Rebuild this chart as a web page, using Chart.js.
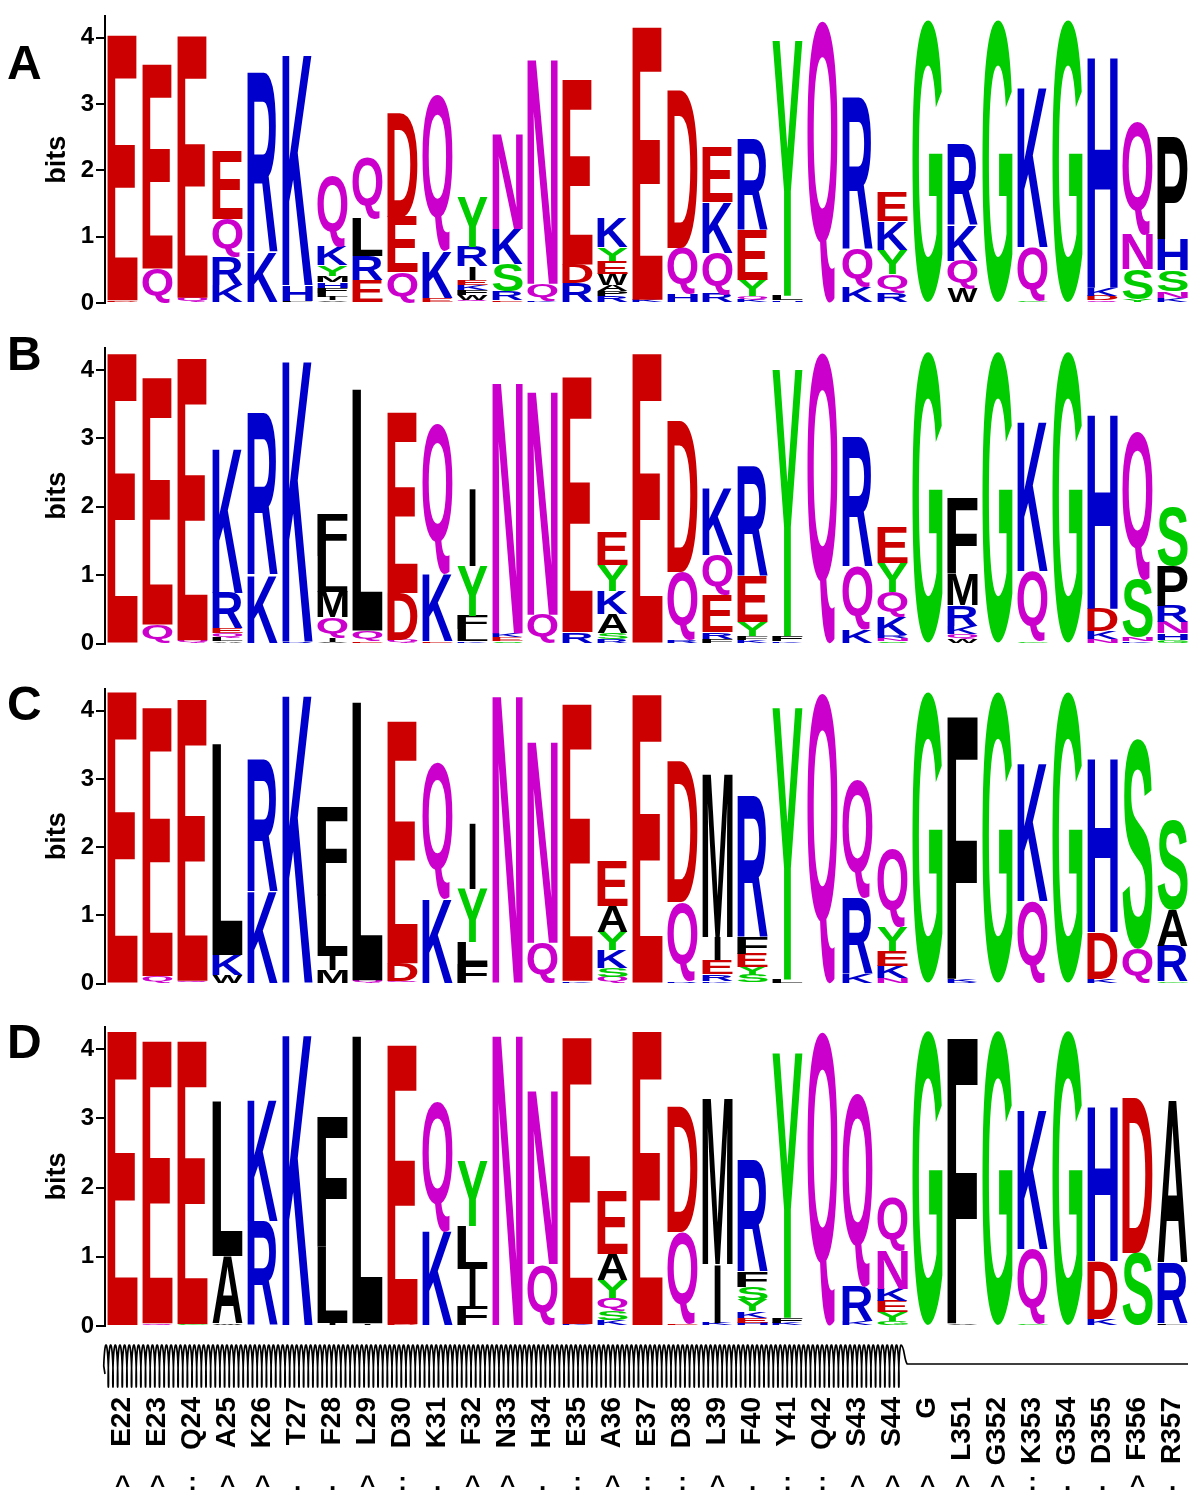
<!DOCTYPE html>
<html>
<head>
<meta charset="utf-8">
<script src="https://cdn.jsdelivr.net/npm/chart.js@4.4.1/dist/chart.umd.min.js"></script>
<style>
  html, body { margin: 0; padding: 0; background: #fff; }
  #wrap { position: relative; width: 1200px; height: 1500px; overflow: hidden; }
  #wrap canvas { position: absolute; left: 0; }
</style>
</head>
<body>
<div id="wrap">
  <canvas id="logo-a" width="1200" height="320" style="top:0px"></canvas>
  <canvas id="logo-b" width="1200" height="340" style="top:320px"></canvas>
  <canvas id="logo-c" width="1200" height="340" style="top:660px"></canvas>
  <canvas id="logo-d" width="1200" height="500" style="top:1000px"></canvas>
</div>
<script>
// logo.js — four stacked sequence logos (bits per residue) drawn on Chart.js bar stacks

const FONT = '"Liberation Sans", Arial, Helvetica, sans-serif';

const positions = ["E22", "E23", "Q24", "A25", "K26", "T27", "F28", "L29", "D30", "K31", "F32",
                   "N33", "H34", "E35", "A36", "E37", "D38", "L39", "F40", "Y41", "Q42", "S43",
                   "S44", "G", "L351", "G352", "K353", "G354", "D355", "F356", "R357"];

const conservation = ["^", "^", ":", "^", "^", ".", ".", "^", ":", ".", "^", "^", ".", ":", "^", ":",
                      ":", "^", ".", ":", ":", "^", "^", "^", "^", "^", ":", ".", ".", "^", "."];

const helixSpan = ["E22", "S44"];
const loopSpan  = ["G", "R357"];

const yTicks = [0, 1, 2, 3, 4];
const yMax   = 4.32;

// each column: letter:bits, listed bottom to top
const logoA = [
    "D:0.04 E:4.0", "Q:0.52 E:3.08", "Q:0.08 E:3.95", "K:0.27 R:0.43 Q:0.57 E:1.02",
    "K:0.76 R:2.72", "L:0.03 H:0.24 K:3.49",
    "V:0.04 I:0.05 L:0.06 F:0.08 H:0.08 M:0.1 Y:0.16 K:0.28 Q:1.09",
    "E:0.34 R:0.37 L:0.57 Q:0.94", "Q:0.46 E:0.84 D:1.56", "E:0.08 K:0.7 Q:2.37",
    "Q:0.05 W:0.07 F:0.07 K:0.08 E:0.08 I:0.2 R:0.3 Y:0.76",
    "E:0.04 R:0.13 S:0.42 K:0.52 N:1.43", "K:0.04 Q:0.25 N:3.4", "R:0.3 D:0.28 E:2.79",
    "R:0.1 P:0.08 A:0.09 W:0.17 E:0.2 Y:0.2 K:0.45", "K:0.05 E:4.11", "H:0.13 Q:0.7 D:2.38",
    "R:0.14 Q:0.62 K:0.76 E:0.83", "K:0.05 Q:0.05 Y:0.24 E:0.76 R:1.37", "H:0.04 L:0.07 Y:3.85",
    "Q:4.27", "K:0.25 Q:0.57 R:2.3", "R:0.15 Q:0.28 Y:0.37 K:0.43 E:0.45", "G:4.27",
    "W:0.22 Q:0.42 K:0.52 R:1.23", "G:4.27", "G:0.04 Q:0.8 K:2.42", "G:4.27",
    "Q:0.04 D:0.07 K:0.12 H:3.49", "Y:0.06 S:0.45 N:0.52 Q:1.7", "K:0.07 N:0.1 S:0.32 H:0.47 P:1.55"
];

const logoB = [
    "E:4.24", "Q:0.28 E:3.61", "Q:0.05 E:4.12", "A:0.04 L:0.05 Q:0.06 E:0.07 R:0.52 K:2.11",
    "K:1.0 R:2.38", "R:0.03 K:4.12", "V:0.03 I:0.06 Q:0.3 M:0.37 L:0.52 F:0.62",
    "E:0.04 Q:0.15 L:3.53", "Q:0.05 D:0.69 E:2.64", "E:0.04 K:0.98 Q:2.2",
    "K:0.04 L:0.17 F:0.2 Y:0.72 I:1.12", "S:0.04 E:0.05 K:0.06 N:3.68", "E:0.02 Q:0.4 N:3.28",
    "R:0.17 E:3.73", "R:0.06 S:0.09 A:0.28 K:0.34 Y:0.38 E:0.48", "E:4.24", "R:0.05 Q:1.0 D:2.21",
    "F:0.07 R:0.1 E:0.55 Q:0.58 K:0.98", "K:0.05 F:0.06 Y:0.2 E:0.68 R:1.6", "K:0.04 F:0.07 Y:3.9",
    "Q:4.27", "K:0.2 Q:0.92 R:1.9", "S:0.04 N:0.04 R:0.04 K:0.27 Q:0.37 Y:0.42 E:0.52", "G:4.27",
    "W:0.06 Q:0.08 K:0.12 R:0.3 M:0.45 F:1.11", "G:4.27", "G:0.04 Q:1.02 K:2.18", "G:4.27",
    "N:0.06 K:0.12 D:0.33 H:2.85", "K:0.04 N:0.06 S:0.84 Q:2.18",
    "G:0.05 H:0.1 N:0.16 R:0.24 P:0.58 S:0.86"
];

const logoC = [
    "E:4.28", "Q:0.11 E:3.94", "Q:0.04 E:4.13", "W:0.12 K:0.3 L:3.1", "K:1.35 R:1.95", "K:4.25",
    "M:0.2 I:0.2 L:0.9 F:1.3", "Q:0.05 L:4.08", "Q:0.04 D:0.26 E:3.55", "K:1.25 Q:2.0",
    "F:0.29 L:0.32 Y:0.78 I:0.97", "N:4.24", "Q:0.6 N:2.96", "K:0.04 E:4.06",
    "Q:0.1 S:0.13 K:0.26 Y:0.27 A:0.38 E:0.66", "E:4.24", "R:0.04 Q:1.16 D:2.07",
    "K:0.04 R:0.1 E:0.2 I:0.34 M:2.4", "S:0.12 Y:0.12 E:0.2 F:0.25 R:2.08", "L:0.06 Y:3.99",
    "Q:4.28", "K:0.14 R:1.12 Q:1.75", "N:0.08 K:0.18 E:0.22 Y:0.35 Q:1.16", "G:4.28",
    "R:0.03 K:0.04 F:3.87", "G:4.28", "Q:1.21 K:2.02", "G:4.28", "K:0.07 D:0.68 H:2.55",
    "Q:0.51 S:3.08", "G:0.03 R:0.52 A:0.53 S:1.32"
];

const logoD = [
    "E:4.26", "Q:0.04 E:4.08", "G:0.03 E:4.09", "W:0.04 A:0.97 L:2.24", "R:1.52 K:1.76", "K:4.23",
    "I:0.05 L:1.1 F:1.89", "I:0.04 L:4.15", "D:0.03 E:4.03", "K:1.37 Q:1.88",
    "F:0.29 I:0.53 L:0.62 Y:0.95", "N:4.22", "Q:0.89 N:2.51", "K:0.03 E:4.14",
    "K:0.08 S:0.14 Q:0.18 Y:0.26 A:0.38 E:0.9", "E:4.26", "E:0.03 Q:1.33 D:1.82",
    "K:0.05 I:0.84 M:2.41", "H:0.05 E:0.07 K:0.09 Y:0.17 S:0.18 F:0.22 R:1.63",
    "K:0.05 F:0.07 Y:3.83", "Q:4.27", "K:0.07 R:0.5 Q:2.8",
    "G:0.07 Y:0.13 E:0.16 K:0.18 N:0.55 Q:0.77", "G:4.27", "V:0.04 F:4.15", "G:4.27",
    "G:0.03 Q:1.08 K:2.02", "G:4.27", "K:0.1 D:0.84 H:2.24", "S:1.06 D:2.24", "L:0.04 R:0.87 A:2.34"
];

const panelNames = ["A", "B", "C", "D"];

function residueColor(l) {
    if ("DE".includes(l))    return "#cc0000";
    if ("NQ".includes(l))    return "#cc00cc";
    if ("KRH".includes(l))   return "#0000cc";
    if ("GSTYC".includes(l)) return "#00cc00";
    return "#000000";
}

function parseColumns(cols) {
    return cols.map(c => c.split(" ").map(p => {
        const [l, v] = p.split(":");
        return { l, v: parseFloat(v) };
    }));
}

// stretch each glyph to fill the stacked bar it belongs to
const letterPlugin = {
    id: "letters",
    afterDatasetsDraw(chart) {
        const ctx = chart.ctx;
        ctx.save();
        ctx.font = `bold 200px ${FONT}`;
        ctx.textAlign = "left";
        ctx.textBaseline = "alphabetic";
        chart.data.datasets.forEach((ds, i) => {
            const meta = chart.getDatasetMeta(i);
            meta.data.forEach((bar, j) => {
                const L = ds.letters[j];
                if (!L) return;
                const { x, y, base, width } = bar.getProps(["x", "y", "base", "width"], true);
                const h = base - y;
                if (h < 0.4) return;
                const w  = L === "I" ? width * 0.2 : width;   // I keeps its thin stroke
                const m  = ctx.measureText(L);
                const gw = m.actualBoundingBoxLeft + m.actualBoundingBoxRight;
                const gh = m.actualBoundingBoxAscent + m.actualBoundingBoxDescent;
                ctx.save();
                ctx.translate(x - w / 2, y);
                ctx.scale(w / gw, h / gh);
                ctx.fillStyle = residueColor(L);
                ctx.fillText(L, m.actualBoundingBoxLeft, m.actualBoundingBoxAscent);
                ctx.restore();
            });
        });
        ctx.restore();
    }
};

const panelLabelPlugin = {
    id: "panelLabel",
    afterDraw(chart, args, opts) {
        const ctx = chart.ctx;
        ctx.save();
        ctx.font = `bold 48px ${FONT}`;
        ctx.fillStyle = "#000";
        ctx.textAlign = "left";
        ctx.textBaseline = "alphabetic";
        ctx.fillText(opts.text, 7, opts.baseline);
        ctx.restore();
    }
};

// helix / loop track and conservation marks under the last panel
const structurePlugin = {
    id: "structure",
    afterDraw(chart, args, opts) {
        if (!opts.show) return;
        const ctx   = chart.ctx;
        const xs    = chart.scales.x;
        const area  = chart.chartArea;
        const pitch = xs.getPixelForValue(1) - xs.getPixelForValue(0);
        const edgeL = name => xs.getPixelForValue(positions.indexOf(name)) - pitch / 2;
        const edgeR = name => xs.getPixelForValue(positions.indexOf(name)) + pitch / 2;
        const yc    = area.bottom + 40;

        ctx.save();
        ctx.strokeStyle = "#000";
        ctx.lineWidth   = 1.7;
        ctx.lineJoin    = "round";

        const x0 = edgeL(helixSpan[0]) + 1;
        const x1 = edgeR(helixSpan[1]) - 6;
        const period = 4.65, a = period / (2 * Math.PI), b = 1.1, amp = 21;
        const tEnd = Math.floor((x1 - x0) / period) * 2 * Math.PI;
        ctx.beginPath();
        ctx.moveTo(x0 - 1, yc + 8);
        for (let t = -Math.PI / 2; t <= tEnd; t += 0.08) {
            const x = x0 + a * t + b * Math.sin(t);
            const y = yc + amp * Math.cos(t + Math.PI);
            ctx.lineTo(x, y);
        }
        const xe = x0 + a * tEnd;
        ctx.bezierCurveTo(xe + 3, yc - amp, xe + 3, yc - 6, xe + 6, yc - 2);
        ctx.lineTo(edgeR(loopSpan[1]) - 2, yc - 2);
        ctx.stroke();

        ctx.fillStyle    = "#000";
        ctx.font         = `bold 26px ${FONT}`;
        ctx.textAlign    = "center";
        ctx.textBaseline = "middle";
        conservation.forEach((s, i) => {
            const dy = s === "^" ? 4 : 0;
            ctx.fillText(s, xs.getPixelForValue(i), area.bottom + 157 + dy);
        });
        ctx.restore();
    }
};

function makeLogo(canvasId, name, cols, layout) {
    const parsed = parseColumns(cols);
    const depth  = Math.max(...parsed.map(c => c.length));
    const datasets = [];
    for (let k = 0; k < depth; k++) {
        datasets.push({
            data:               parsed.map(c => c[k] ? c[k].v : 0),
            letters:            parsed.map(c => c[k] ? c[k].l : ""),
            backgroundColor:    "rgba(0,0,0,0)",
            borderWidth:        0,
            barPercentage:      0.86,
            categoryPercentage: 1.0,
            stack:              "logo",
        });
    }

    const xScale = {
        stacked: true,
        display: layout.showX,
        grid:    { display: false, drawTicks: false },
        border:  { display: false },
        ticks: {
            autoSkip:    false,
            minRotation: 90,
            maxRotation: 90,
            padding:     71,
            color:       "#000",
            font:        { family: FONT, weight: "bold", size: 28 },
        },
    };
    if (layout.showX) {
        xScale.afterFit = s => {
            s.height = 174;
            s.paddingLeft = 0;
            s.paddingRight = 0;
        };
    }

    return new Chart(document.getElementById(canvasId), {
        type: "bar",
        data: { labels: positions, datasets },
        plugins: [letterPlugin, panelLabelPlugin, structurePlugin],
        options: {
            responsive:       false,
            animation:        false,
            devicePixelRatio: 1,
            events:           [],
            layout: { padding: { top: layout.padTop, bottom: layout.padBottom, left: 0, right: 10 } },
            scales: {
                x: xScale,
                y: {
                    stacked: true,
                    min:     0,
                    max:     yMax,
                    afterBuildTicks: s => { s.ticks = yTicks.map(v => ({ value: v })); },
                    afterFit: s => { s.width = 105; },
                    border: { display: true, color: "#000", width: 2 },
                    grid: {
                        drawOnChartArea: false,
                        drawTicks:       true,
                        tickLength:      9,
                        color:           "#000",
                        lineWidth:       2,
                    },
                    ticks: {
                        color:   "#000",
                        padding: 2,
                        font:    { family: FONT, weight: "bold", size: 24 },
                    },
                    title: {
                        display: true,
                        text:    "bits",
                        color:   "#000",
                        padding: { top: 41, bottom: 0 },
                        font:    { family: FONT, weight: "bold", size: 27 },
                    },
                },
            },
            plugins: {
                legend:     { display: false },
                tooltip:    { enabled: false },
                panelLabel: { text: name, baseline: layout.nameY },
                structure:  { show: layout.showX },
            },
        },
    });
}

makeLogo("logo-a", panelNames[0], logoA, { padTop: 6,  padBottom: 17, nameY: 79, showX: false });
makeLogo("logo-b", panelNames[1], logoB, { padTop: 28, padBottom: 13, nameY: 50, showX: false });
makeLogo("logo-c", panelNames[2], logoC, { padTop: 29, padBottom: 12, nameY: 60, showX: false });
makeLogo("logo-d", panelNames[3], logoD, { padTop: 27, padBottom: 0,  nameY: 58, showX: true });
</script>
</body>
</html>
